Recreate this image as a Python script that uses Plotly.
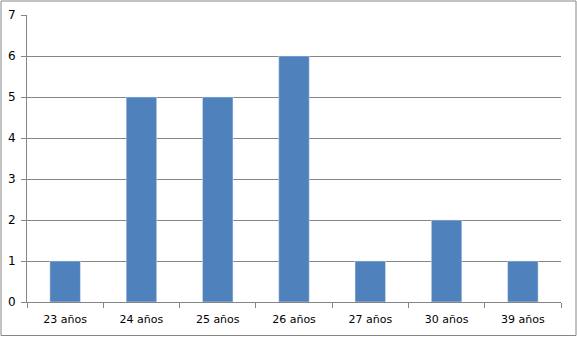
import plotly.graph_objects as go

categories = ["23 años", "24 años", "25 años", "26 años", "27 años", "30 años", "39 años"]
values = [1, 5, 5, 6, 1, 2, 1]

W, H = 577, 337
ml, mr, mt, mb = 27, 16, 15, 35
pw, ph = W - ml - mr, H - mt - mb

fig = go.Figure(go.Bar(x=categories, y=values, marker_color="#4F81BD", width=0.4))

grey = "#868686"
fig.update_layout(
    width=W, height=H,
    margin=dict(l=ml, r=mr, t=mt, b=mb, pad=0, autoexpand=False),
    paper_bgcolor="white", plot_bgcolor="white",
    font=dict(family="DejaVu Sans", size=11, color="black"),
    showlegend=False,
    xaxis=dict(type="category", tickson="boundaries", ticks="outside", ticklen=5,
               tickcolor=grey, showline=True, linecolor=grey, showgrid=False,
               tickfont=dict(size=11), ticklabelstandoff=7, automargin=False),
    yaxis=dict(range=[0, 7], dtick=1, ticks="outside", ticklen=5, tickcolor=grey,
               showline=True, linecolor=grey, showgrid=True, gridcolor=grey,
               zeroline=False, tickfont=dict(size=12), ticklabelstandoff=3,
               automargin=False),
    shapes=[dict(type="rect", xref="paper", yref="paper",
                 x0=(1 - ml) / pw, x1=(W - 1 - ml) / pw,
                 y0=-(mb - 1.5) / ph, y1=1 + (mt - 1) / ph,
                 line=dict(color=grey, width=1), fillcolor="rgba(0,0,0,0)", layer="below")],
)
fig.write_html("out.html")
